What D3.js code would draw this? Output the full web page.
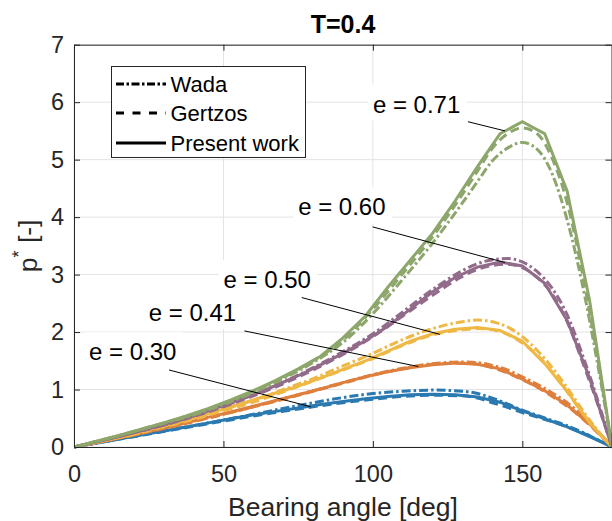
<!DOCTYPE html>
<html><head><meta charset="utf-8">
<script src="https://cdn.jsdelivr.net/npm/d3@7"></script>
<style>
body{margin:0;background:#fff}
svg{display:block}
text{font-family:"Liberation Sans",Arial,Helvetica,sans-serif}
</style>
</head><body>
<svg id="c" width="612" height="521"></svg>
<script>
// ---------- data ----------
const anglesPresent = [0,7.5,15,22.5,30,37.5,45,52.5,60,67.5,75,82.5,90,97.5,105,112.5,120,127.5,135,142.5,150,157.5,165,172.5,180];
const anglesRef = [0,10,20,30,40,50,60,70,80,90,100,110,120,130,135,140,145,150,155,160,165,170,175,180];
const eccentricities = ["0.30","0.41","0.50","0.60","0.71"];

const present030 = [0,0.07,0.14,0.21,0.28,0.35,0.42,0.49,0.56,0.62,0.68,0.74,0.79,0.84,0.88,0.91,0.92,0.91,0.87,0.78,0.63,0.49,0.35,0.18,0];
const wada030    = [0,0.09,0.19,0.28,0.37,0.47,0.57,0.67,0.77,0.86,0.93,0.97,0.99,0.97,0.93,0.85,0.75,0.64,0.55,0.46,0.37,0.26,0.13,0];
const gertzos030 = [0,0.09,0.18,0.27,0.36,0.45,0.54,0.62,0.70,0.77,0.83,0.88,0.90,0.89,0.85,0.77,0.69,0.60,0.52,0.44,0.35,0.25,0.13,0];

const present041 = [0,0.08,0.16,0.24,0.33,0.42,0.52,0.61,0.71,0.81,0.91,1.01,1.12,1.22,1.31,1.38,1.43,1.46,1.44,1.36,1.18,0.98,0.73,0.40,0];
const wada041    = [0,0.10,0.21,0.33,0.45,0.57,0.70,0.84,0.98,1.12,1.26,1.37,1.45,1.48,1.47,1.42,1.34,1.22,1.09,0.94,0.77,0.55,0.29,0];
const gertzos041 = [0,0.10,0.21,0.32,0.44,0.57,0.70,0.83,0.97,1.11,1.25,1.36,1.44,1.46,1.44,1.38,1.29,1.17,1.04,0.88,0.71,0.50,0.26,0];

const present050 = [0,0.08,0.17,0.27,0.37,0.47,0.58,0.70,0.82,0.94,1.06,1.20,1.35,1.50,1.67,1.84,1.97,2.05,2.08,2.03,1.84,1.45,0.97,0.42,0];
const wada050    = [0,0.11,0.22,0.36,0.50,0.65,0.81,1.00,1.19,1.41,1.63,1.87,2.06,2.18,2.21,2.18,2.09,1.92,1.68,1.38,1.03,0.65,0.30,0];
const gertzos050 = [0,0.11,0.22,0.35,0.48,0.63,0.78,0.96,1.15,1.34,1.54,1.77,1.95,2.04,2.06,2.04,1.96,1.81,1.60,1.30,0.96,0.60,0.28,0];

const present060 = [0,0.09,0.18,0.28,0.39,0.50,0.63,0.77,0.91,1.07,1.24,1.43,1.63,1.85,2.10,2.40,2.70,2.95,3.13,3.22,3.15,2.85,2.20,1.20,0];
const wada060    = [0,0.12,0.25,0.38,0.54,0.71,0.91,1.13,1.38,1.66,1.97,2.35,2.74,3.07,3.19,3.26,3.28,3.22,3.05,2.76,2.30,1.62,0.85,0];
const gertzos060 = [0,0.12,0.25,0.38,0.53,0.70,0.89,1.10,1.34,1.61,1.92,2.28,2.64,2.97,3.09,3.16,3.18,3.12,2.95,2.66,2.18,1.50,0.78,0];

const present071 = [0,0.10,0.20,0.31,0.42,0.54,0.67,0.82,0.98,1.16,1.36,1.58,1.90,2.28,2.78,3.25,3.72,4.28,4.88,5.45,5.66,5.45,4.45,2.55,0];
const wada071    = [0,0.13,0.27,0.41,0.56,0.74,0.95,1.19,1.47,1.82,2.32,2.92,3.55,4.25,4.62,4.98,5.20,5.30,5.18,4.75,3.95,2.85,1.50,0];
const gertzos071 = [0,0.13,0.27,0.42,0.57,0.76,0.97,1.21,1.50,1.86,2.40,3.02,3.66,4.40,4.80,5.20,5.45,5.55,5.45,5.02,4.25,3.05,1.60,0];

const xTicks = [0,50,100,150];
const yTicks = [0,1,2,3,4,5,6,7];
const legendNames = ["Wada","Gertzos","Present work"];

// annotation anchors (data coords)
const labelX = [5,25,50,75,100];
const labelY = [1.66,2.34,2.92,4.18,5.97];
const leaderX1 = [31.8,57.0,76.2,99.9,131.8];
const leaderY1 = [1.34,2.02,2.60,3.83,5.66];
const leaderX2 = [79.2,115.2,122.4,144.2,144.2];
const leaderY2 = [0.70,1.40,1.96,3.21,5.50];

// ---------- styles ----------
const colors = ["#2a79b0","#de7f3e","#efb743","#926b8a","#8da66b"];
const dashWada = "9,3,2.5,3";
const dashGertzos = "9,5";

const series = [
  {w:wada030,g:gertzos030,p:present030},
  {w:wada041,g:gertzos041,p:present041},
  {w:wada050,g:gertzos050,p:present050},
  {w:wada060,g:gertzos060,p:present060},
  {w:wada071,g:gertzos071,p:present071}
];

const svg = d3.select("#c");
const L=74, R=612, T=44.7, B=447;
const x = d3.scaleLinear().domain([0,180]).range([L,R]);
const y = d3.scaleLinear().domain([0,7]).range([B,T]);
const axisColor = "#262626";

// grid
const grid = svg.append("g");
grid.selectAll("line.gx").data(xTicks).join("line")
  .attr("x1",d=>x(d)).attr("x2",d=>x(d)).attr("y1",T).attr("y2",B)
  .attr("stroke","#e3e3e3").attr("stroke-width",1);
grid.selectAll("line.gy").data(yTicks).join("line")
  .attr("x1",L).attr("x2",R).attr("y1",d=>y(d)).attr("y2",d=>y(d))
  .attr("stroke","#e3e3e3").attr("stroke-width",1);

// curves
svg.append("clipPath").attr("id","clip").append("rect")
  .attr("x",L).attr("y",T-2).attr("width",R-L+2).attr("height",B-T+4);
const plot = svg.append("g").attr("clip-path","url(#clip)");
const lineRef = d3.line().x((d,i)=>x(anglesRef[i])).y(d=>y(d)).curve(d3.curveMonotoneX);
const linePres = d3.line().x((d,i)=>x(anglesPresent[i])).y(d=>y(d));

series.forEach((s,k)=>{
  plot.append("path").attr("d",lineRef(s.w)).attr("fill","none")
    .attr("stroke",colors[k]).attr("stroke-width",3).attr("stroke-dasharray",dashWada);
  plot.append("path").attr("d",lineRef(s.g)).attr("fill","none")
    .attr("stroke",colors[k]).attr("stroke-width",3).attr("stroke-dasharray",dashGertzos);
  plot.append("path").attr("d",linePres(s.p)).attr("fill","none")
    .attr("stroke",colors[k]).attr("stroke-width",3).attr("stroke-linejoin","miter");
});

// axes
const fontTick = 23.5;
const gl = svg.append("g").attr("transform",`translate(${L},0)`)
  .call(d3.axisLeft(y).tickValues(yTicks).tickSize(-6).tickSizeOuter(0).tickPadding(10).tickFormat(d3.format("d")));
const gb = svg.append("g").attr("transform",`translate(0,${B})`)
  .call(d3.axisBottom(x).tickValues(xTicks).tickSize(-6).tickSizeOuter(0).tickPadding(18).tickFormat(d3.format("d")));
const gt = svg.append("g").attr("transform",`translate(0,${T})`)
  .call(d3.axisTop(x).tickValues(xTicks).tickSize(-6).tickSizeOuter(0).tickFormat(""));
const gr = svg.append("g").attr("transform",`translate(${R-0.5},0)`)
  .call(d3.axisRight(y).tickValues(yTicks).tickSize(-6).tickSizeOuter(0).tickFormat(""));
[gl,gb,gt,gr].forEach(g=>{
  g.selectAll("path").attr("stroke",axisColor).attr("stroke-width",1);
  g.selectAll("line").attr("stroke",axisColor).attr("stroke-width",1);
  g.selectAll("text").attr("fill",axisColor).attr("font-size",fontTick)
   .attr("font-family","Liberation Sans, Arial, sans-serif");
});

// annotations: leader lines then labels with white background
const ann = svg.append("g");
eccentricities.forEach((e,i)=>{
  ann.append("line")
    .attr("x1",x(leaderX1[i])).attr("y1",y(leaderY1[i]))
    .attr("x2",x(leaderX2[i])).attr("y2",y(leaderY2[i]))
    .attr("stroke","#000").attr("stroke-width",1);
});
eccentricities.forEach((e,i)=>{
  const g = ann.append("g");
  const t = g.append("text").attr("x",x(labelX[i])).attr("y",y(labelY[i])).attr("dy","0.36em")
    .attr("font-size",24).attr("fill","#000").text("e = "+e);
  const bb = t.node().getBBox();
  g.insert("rect","text").attr("x",bb.x-5).attr("y",bb.y-6).attr("width",bb.width+11).attr("height",bb.height+9)
    .attr("fill","#fff");
});

// legend
const lg = svg.append("g");
lg.append("rect").attr("x",111.5).attr("y",66.5).attr("width",194).attr("height",91)
  .attr("fill","#fff").attr("stroke",axisColor).attr("stroke-width",1);
const legDash = [dashWada, dashGertzos, null];
const legY = [84,113,143];
legendNames.forEach((n,i)=>{
  const l = lg.append("line").attr("x1",116).attr("x2",166).attr("y1",legY[i]).attr("y2",legY[i])
    .attr("stroke","#000").attr("stroke-width",3);
  if(legDash[i]) l.attr("stroke-dasharray", i===0 ? "8,2.5,2.5,2.5" : "8,8.5");
  lg.append("text").attr("x",170.5).attr("y",legY[i]).attr("dy","0.36em")
    .attr("font-size",22).attr("fill","#000").text(n);
});

// title & labels
svg.append("text").attr("x",(L+R)/2).attr("y",33).attr("text-anchor","middle")
  .attr("font-size",25).attr("font-weight","bold").attr("fill","#000").text("T=0.4");
svg.append("text").attr("x",(L+R)/2).attr("y",516).attr("text-anchor","middle")
  .attr("font-size",26.5).attr("fill",axisColor).text("Bearing angle [deg]");
const yl = svg.append("text").attr("transform",`translate(37,${(T+B)/2}) rotate(-90)`)
  .attr("text-anchor","middle").attr("font-size",26.5).attr("fill",axisColor);
yl.append("tspan").text("p");
yl.append("tspan").attr("font-size",18).attr("dy",-12).text("*");
yl.append("tspan").attr("dy",12).text(" [-]");
</script>
</body></html>
